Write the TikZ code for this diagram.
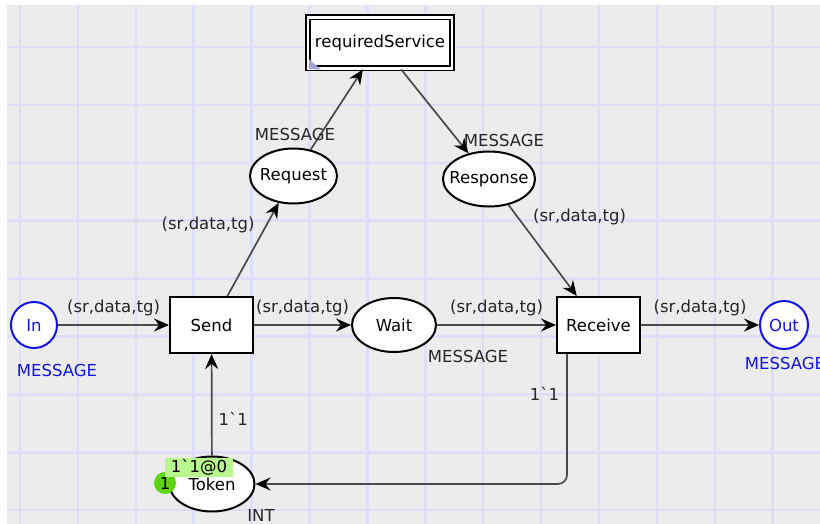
\documentclass[tikz,border=0pt]{standalone}
\usepackage{fontspec}
\setmainfont{DejaVu Sans}
\usetikzlibrary{shapes.geometric, arrows.meta}

\definecolor{canvas}{HTML}{ECECEC}
\definecolor{gridblue}{HTML}{DEDEF8}
\definecolor{portblue}{HTML}{1414E6}
\definecolor{arcgray}{HTML}{4A4A4A}
\definecolor{tokgreen}{HTML}{5ED411}
\definecolor{marklight}{HTML}{B9F78F}
\definecolor{tagblue}{HTML}{A4A4D8}

\begin{document}
\begin{tikzpicture}[x=1pt, y=-1pt]
\tikzstyle{every node}=[font={\fontsize{16.5}{19}\selectfont}]
\tikzstyle{place}=[ellipse, draw, fill=white, line width=2pt, inner xsep=-12pt, inner ysep=0pt, minimum width=87pt, minimum height=55pt]
\tikzstyle{port}=[circle, draw=portblue, text=portblue, fill=white, line width=2pt, minimum size=46pt, inner sep=0pt]
\tikzstyle{trans}=[rectangle, draw, fill=white, line width=2pt, minimum width=83pt, minimum height=56pt]
\tikzstyle{subst}=[rectangle, draw, fill=white, double, double distance=2.4pt, line width=1.8pt, minimum width=144pt, minimum height=51pt, inner sep=0pt]
\tikzstyle{lbl}=[inner sep=1pt, text=black!85]
\tikzstyle{cpnarc}=[draw=arcgray, line width=1.7pt, -{Stealth[length=15pt,width=13pt,inset=5pt,color=black]}]
\tikzstyle{every edge}=[cpnarc]

\useasboundingbox (0,0) rectangle (820,524);
\fill[white] (0,0) rectangle (820,524);
\fill[canvas] (7,5) rectangle (820,524);
\foreach \i in {0,...,13}
  \draw[gridblue, line width=2.5pt] (20+57.9*\i,5) -- (20+57.9*\i,524);
\foreach \j in {0,...,8}
  \draw[gridblue, line width=2.5pt] (7,47+57.9*\j) -- (820,47+57.9*\j);

\node[subst] at (380,43) (Svc) {requiredService};
\fill[tagblue] ([shift={(2,0)}]Svc.south west) -- ++(12,0) -- ++(-12,-10) -- cycle;
\node[place] at (293.5,176) (Req) {Request};
\node[place, minimum width=92pt] at (489,179) (Resp) {Response};
\node[port] at (34,325) (In) {In};
\node[trans] at (211.5,325) (Send) {Send};
\node[place, minimum width=84pt, minimum height=54pt] at (394,325) (Wait) {Wait};
\node[trans] at (598.5,325) (Recv) {Receive};
\node[port, minimum size=48pt] at (784,325) (Out) {Out};
\node[place, minimum width=85pt] at (212,484) (Tok) {Token};

\draw (In) edge node[lbl, above=7pt] {(sr,data,tg)} (Send);
\draw (Send) edge node[lbl, above=7pt] {(sr,data,tg)} (Wait)
        edge node[lbl, pos=0.76, left=10pt] {(sr,data,tg)} (Req);
\draw (Wait) edge node[lbl, above=7pt] {(sr,data,tg)} (Recv);
\draw (Recv) edge node[lbl, above=7pt] {(sr,data,tg)} (Out);
\draw (Req) edge (Svc);
\draw (Svc) edge (Resp);
\draw (Resp) edge node[lbl, pos=0.13, right=14pt] {(sr,data,tg)} (Recv);
\draw (Tok) edge node[lbl, pos=0.36, right=5pt] {1\textasciigrave 1} (Send);
\draw[cpnarc, rounded corners=9pt] ([xshift=-31.5pt]Recv.south) |- node[lbl, pos=0.154, left=6pt] {1\textasciigrave 1} (Tok.east);

\node[lbl] at (295,134) (ReqType) {MESSAGE};
\node[lbl] at (504,140) (RespType) {MESSAGE};
\node[lbl] at (468,356) (WaitType) {MESSAGE};
\node[lbl, text=portblue] at (57,370) (InType) {MESSAGE};
\node[lbl, text=portblue] at (785,363) (OutType) {MESSAGE};
\node[lbl] at (261,515) (TokType) {INT};

\node[circle, fill=tokgreen, minimum size=22pt, inner sep=0pt] at (165,483) (TokCount) {1};
\node[fill=marklight, inner sep=1pt, minimum width=68pt, minimum height=19pt] at (199,467.5) (TokMark) {1\textasciigrave 1@0};
\end{tikzpicture}
\end{document}
